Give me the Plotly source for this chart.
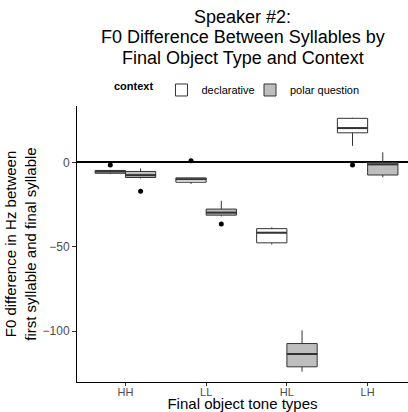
import plotly.graph_objects as go

categories = ["HH", "LL", "HL", "LH"]
tick_vals_y = [-100, -50, 0]
title_lines = ["Speaker #2:", "F0 Difference Between Syllables by", "Final Object Type and Context"]

# declarative box stats
decl_low = [-7.0, -12.8, -48.7, 9.8]
decl_q1 = [-6.5, -11.8, -47.7, 17.5]
decl_med = [-5.5, -10.0, -41.7, 20.3]
decl_q3 = [-4.8, -9.2, -39.3, 26.1]
decl_up = [-4.5, -9.2, -38.5, 26.4]
decl_out_cat = ["HH", "LL", "LH"]
decl_out_val = [-1.5, 1.0, -1.6]

# polar question box stats
pol_low = [-9.6, -32.0, -124.1, -8.9]
pol_q1 = [-9.0, -31.3, -121.2, -7.5]
pol_med = [-7.6, -29.8, -113.6, -1.2]
pol_q3 = [-5.4, -27.7, -107.4, -0.2]
pol_up = [-3.6, -22.8, -99.6, 5.9]
pol_out_cat = ["HH", "LL"]
pol_out_val = [-17.2, -36.5]

FONT = "Liberation Sans, Arial, sans-serif"
LINE = "#333333"
BW = 0.375
idx = {c: i + 1 for i, c in enumerate(categories)}

fig = go.Figure()

groups = [
    ("declarative", "legend", -BW / 2, "white", decl_low, decl_q1, decl_med, decl_q3, decl_up, decl_out_cat, decl_out_val),
    ("polar question", "legend2", BW / 2, "#bebebe", pol_low, pol_q1, pol_med, pol_q3, pol_up, pol_out_cat, pol_out_val),
]

for name, leg, off, fill, lo, q1, med, q3, up, oc, ov in groups:
    xs = [idx[c] + off for c in categories]
    fig.add_trace(go.Box(
        name=name, x=xs, lowerfence=lo, q1=q1, median=med, q3=q3, upperfence=up,
        width=BW, fillcolor=fill, line=dict(color=LINE, width=1),
        boxpoints=False, whiskerwidth=0, showlegend=True, legend=leg,
    ))
    # thicker median lines
    mx, my = [], []
    for x, m in zip(xs, med):
        mx += [x - BW / 2, x + BW / 2, None]
        my += [m, m, None]
    fig.add_trace(go.Scatter(x=mx, y=my, mode="lines", line=dict(color=LINE, width=2),
                             showlegend=False, hoverinfo="skip"))
    fig.add_trace(go.Scatter(x=[idx[c] + off for c in oc], y=ov, mode="markers",
                             marker=dict(color="black", size=5), showlegend=False))

# title, one line per annotation (plot top is 106 px, plot height 276 px)
for i, line in enumerate(title_lines):
    fig.add_annotation(
        text=line, xref="paper", yref="paper", x=0.5, y=1 + (106 - (17 + 20.5 * i)) / 276,
        xanchor="center", yanchor="middle", showarrow=False,
        font=dict(size=18, family=FONT, color="black"),
    )

fig.update_layout(
    width=408, height=412,
    margin=dict(l=77, r=0, t=106, b=30),
    plot_bgcolor="white", paper_bgcolor="white",
    font=dict(family=FONT, color="black"),
    legend=dict(
        orientation="h", x=(112 - 77) / 331, xanchor="left", y=1.058, yanchor="middle",
        title=dict(text="<b>context</b>", font=dict(size=11), side="left"),
        font=dict(size=11), itemwidth=30, bgcolor="rgba(0,0,0,0)",
    ),
    legend2=dict(
        orientation="h", x=(250 - 77) / 331, xanchor="left", y=1.058, yanchor="middle",
        font=dict(size=11), itemwidth=30, bgcolor="rgba(0,0,0,0)",
    ),
    xaxis=dict(
        range=[0.4, 4.5], tickmode="array", tickvals=[1, 2, 3, 4], ticktext=categories,
        showline=True, linecolor="black", linewidth=1, showgrid=False, zeroline=False,
        ticks="outside", ticklen=3, tickcolor=LINE, tickfont=dict(size=11, color="#4d4d4d"),
        ticklabelstandoff=-3,
        title=dict(text="Final object tone types", font=dict(size=15), standoff=0),
    ),
    yaxis=dict(
        range=[-130.2, 33.4], tickmode="array", tickvals=tick_vals_y,
        showline=True, linecolor="black", linewidth=1, showgrid=False,
        zeroline=True, zerolinecolor="black", zerolinewidth=2,
        ticks="outside", ticklen=4, tickcolor=LINE, tickfont=dict(size=12, color="#4d4d4d"),
        title=dict(text="F0 difference in Hz between<br>first syllable and final syllable",
                   font=dict(size=15), standoff=2),
    ),
)

fig.write_html("out.html")
